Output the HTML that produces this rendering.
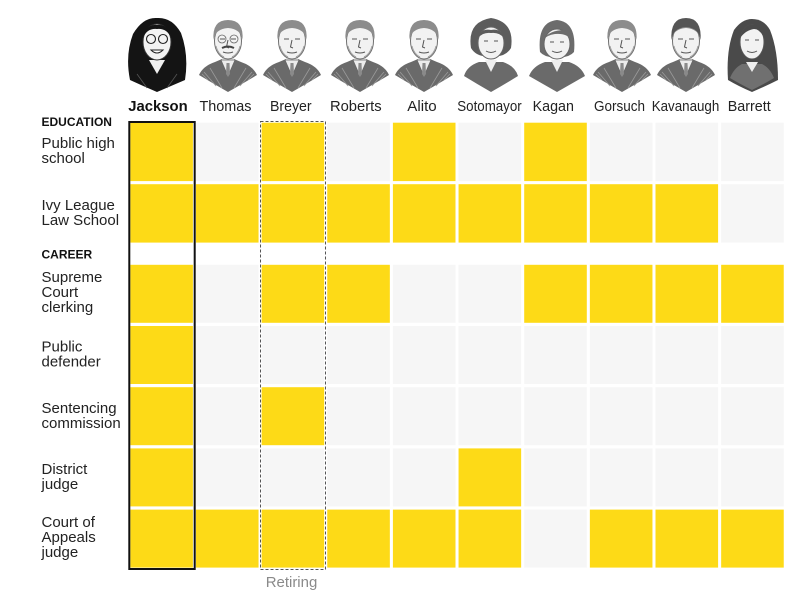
<!DOCTYPE html>
<html><head><meta charset="utf-8"><style>
html,body{margin:0;padding:0;background:#fff;}
svg{display:block;}
text{font-family:"Liberation Sans",sans-serif;}
</style></head><body>
<svg width="811" height="595" viewBox="0 0 811 595" xmlns="http://www.w3.org/2000/svg">
<defs>
<g id="man">
  <path d="M-29,75 Q-25,66 -13,62 L-6,59 L6,59 L13,62 Q25,66 29,75 Q14,84 0,92 Q-14,84 -29,75 Z" fill="#6a6a6a"/>
  <path d="M-24,72 L-12,86 M-18,68 L-6,88 M24,72 L12,86 M18,68 L6,88 M-26,74 L-20,80 M26,74 L20,80" stroke="#9a9a9a" stroke-width="0.8" fill="none"/>
  <rect x="-6" y="52" width="12" height="9" fill="#e6e6e6"/>
  <path d="M-7,60 L0,76 L7,60 Z" fill="#ececec" stroke="#666" stroke-width="0.7"/>
  <path d="M-1.5,63 L1.5,63 L2,74 L0,77 L-2,74 Z" fill="#8a8a8a"/>
  <ellipse cx="0" cy="41" rx="13.5" ry="18" fill="#f2f2f2" stroke="#6f6f6f" stroke-width="1"/>
  <path d="M-14.5,40 Q-16,20 0,20 Q16,20 14.5,40 Q13,29 0,28 Q-13,29 -14.5,40 Z" fill="#8c8c8c"/>
  <path d="M-8,39 L-3,39 M3,39 L8,39 M0,40 L-1.5,47 L1,48 M-5,52 Q0,54 5,52" stroke="#555" stroke-width="1" fill="none"/>
  <path d="M-12,46 Q-10,54 -4,57 M12,46 Q10,54 4,57" stroke="#999" stroke-width="0.8" fill="none"/>
</g>
</defs>

<!-- Portraits -->
<!-- Jackson -->
<g transform="translate(157,0)">
  <path d="M-27,80 Q-32,55 -24,34 Q-14,17 0,18 Q15,17 24,33 Q32,55 28,80 Q14,86 0,92 Q-14,86 -27,80 Z" fill="#141414"/>
  <path d="M-20,74 L-10,88 M20,74 L10,88" stroke="#555" stroke-width="0.8"/>
  <path d="M-8,60 L0,74 L8,60 Z" fill="#f0f0f0"/>
  <ellipse cx="0" cy="42" rx="14" ry="18" fill="#f3f3f3" stroke="#333" stroke-width="1"/>
  <path d="M-14,38 Q-12,24 0,25 Q12,24 14,38 Q10,28 0,29 Q-10,28 -14,38 Z" fill="#141414"/>
  <circle cx="-6" cy="39" r="4.5" fill="none" stroke="#222" stroke-width="1.1"/>
  <circle cx="6" cy="39" r="4.5" fill="none" stroke="#222" stroke-width="1.1"/>
  <path d="M-6,50 Q0,56 6,50 Z" fill="#fff" stroke="#222" stroke-width="1"/>
</g>
<!-- Thomas -->
<g transform="translate(228,0)"><use href="#man"/>
  <path d="M-6,48 Q0,45 6,48" stroke="#444" stroke-width="2" fill="none"/>
  <circle cx="-6" cy="39" r="4" fill="none" stroke="#666" stroke-width="0.8"/><circle cx="6" cy="39" r="4" fill="none" stroke="#666" stroke-width="0.8"/>
</g>
<g transform="translate(292,0)"><use href="#man"/></g>
<g transform="translate(360,0)"><use href="#man"/></g>
<g transform="translate(424,0)"><use href="#man"/></g>
<!-- Sotomayor -->
<g transform="translate(491,0)">
  <path d="M-27,76 Q-24,66 -12,62 L12,62 Q24,66 27,76 Q14,84 0,92 Q-14,84 -27,76 Z" fill="#6a6a6a"/>
  <path d="M-6,60 L0,72 L6,60 Z" fill="#eee"/>
  <path d="M-20,48 Q-24,22 0,18 Q24,22 20,48 Q14,58 0,56 Q-14,58 -20,48 Z" fill="#5c5c5c"/>
  <ellipse cx="0" cy="43" rx="13" ry="16" fill="#f2f2f2" stroke="#666" stroke-width="1"/>
  <path d="M-13,38 Q-10,28 0,30 Q10,28 13,38 Q8,32 0,33 Q-8,32 -13,38 Z" fill="#5c5c5c"/>
  <path d="M-7,41 L-3,41 M3,41 L7,41 M-5,51 Q0,54 5,51" stroke="#555" stroke-width="1" fill="none"/>
</g>
<!-- Kagan -->
<g transform="translate(557,0)">
  <path d="M-28,76 Q-24,66 -12,62 L12,62 Q24,66 28,76 Q14,84 0,92 Q-14,84 -28,76 Z" fill="#6a6a6a"/>
  <path d="M-6,60 L0,72 L6,60 Z" fill="#eee"/>
  <path d="M-17,52 Q-20,22 0,20 Q20,22 17,52 Q12,58 0,57 Q-12,58 -17,52 Z" fill="#6c6c6c"/>
  <ellipse cx="0" cy="44" rx="13" ry="15" fill="#f2f2f2" stroke="#666" stroke-width="1"/>
  <path d="M-14,40 Q-8,30 8,30 Q12,32 14,40 Q10,33 -2,34 Q-10,35 -14,40 Z" fill="#6c6c6c"/>
  <path d="M-7,42 L-3,42 M3,42 L7,42 M-5,51 Q0,54 5,51" stroke="#555" stroke-width="1" fill="none"/>
</g>
<g transform="translate(622,0)"><use href="#man"/></g>
<g transform="translate(686,0)"><use href="#man"/>
  <path d="M-14.5,40 Q-16,18 0,18 Q16,18 14.5,40 Q13,28 0,27 Q-13,28 -14.5,40 Z" fill="#555"/>
</g>
<!-- Barrett -->
<g transform="translate(752,0)">
  <path d="M-24,80 Q-26,50 -18,30 Q-10,19 0,19 Q12,19 18,30 Q26,50 26,80 Q14,86 0,92 Q-14,86 -24,80 Z" fill="#4a4a4a"/>
  <path d="M-22,78 Q-18,68 -10,64 L10,64 Q18,68 22,78 Q12,84 0,90 Q-12,84 -22,78 Z" fill="#707070"/>
  <path d="M-6,62 L0,72 L6,62 Z" fill="#eee"/>
  <ellipse cx="0" cy="42" rx="12" ry="17" fill="#f2f2f2" stroke="#555" stroke-width="1"/>
  <path d="M-12,38 Q-8,24 0,25 Q10,24 12,38 Q8,29 2,29 Q-6,30 -12,38 Z" fill="#4a4a4a"/>
  <path d="M-7,40 L-3,40 M3,40 L7,40 M-5,51 Q0,54 5,51" stroke="#555" stroke-width="1" fill="none"/>
</g>

<!-- Names -->
<g font-size="15" fill="#222">
  <text x="158" y="111" text-anchor="middle" font-weight="bold" fill="#111" textLength="59.4" lengthAdjust="spacingAndGlyphs">Jackson</text>
  <text x="225.5" y="111" text-anchor="middle" textLength="52" lengthAdjust="spacingAndGlyphs">Thomas</text>
  <text x="290.8" y="111" text-anchor="middle" textLength="41.7" lengthAdjust="spacingAndGlyphs">Breyer</text>
  <text x="355.8" y="111" text-anchor="middle" textLength="51.7" lengthAdjust="spacingAndGlyphs">Roberts</text>
  <text x="422" y="111" text-anchor="middle" textLength="29.4" lengthAdjust="spacingAndGlyphs">Alito</text>
  <text x="489.5" y="111" text-anchor="middle" textLength="64.4" lengthAdjust="spacingAndGlyphs">Sotomayor</text>
  <text x="553.3" y="111" text-anchor="middle" textLength="41.3" lengthAdjust="spacingAndGlyphs">Kagan</text>
  <text x="619.5" y="111" text-anchor="middle" textLength="51" lengthAdjust="spacingAndGlyphs">Gorsuch</text>
  <text x="685.5" y="111" text-anchor="middle" textLength="67.6" lengthAdjust="spacingAndGlyphs">Kavanaugh</text>
  <text x="749.2" y="111" text-anchor="middle" textLength="43" lengthAdjust="spacingAndGlyphs">Barrett</text>
</g>

<!-- Left labels -->
<g font-size="12" font-weight="bold" fill="#111">
  <text x="41.5" y="126">EDUCATION</text>
  <text x="41.5" y="258.5">CAREER</text>
</g>
<g font-size="15" fill="#222">
  <text x="41.5" y="148">Public high</text>
  <text x="41.5" y="163">school</text>
  <text x="41.5" y="210">Ivy League</text>
  <text x="41.5" y="225">Law School</text>
  <text x="41.5" y="282">Supreme</text>
  <text x="41.5" y="297">Court</text>
  <text x="41.5" y="312">clerking</text>
  <text x="41.5" y="351.5">Public</text>
  <text x="41.5" y="366.5">defender</text>
  <text x="41.5" y="413">Sentencing</text>
  <text x="41.5" y="428">commission</text>
  <text x="41.5" y="474">District</text>
  <text x="41.5" y="489">judge</text>
  <text x="41.5" y="527">Court of</text>
  <text x="41.5" y="542">Appeals</text>
  <text x="41.5" y="557">judge</text>
</g>

<!-- Cells -->
<g>
<!-- Row: Public high school y=122.7 h=58.4 : 1 0 1 0 1 0 1 0 0 0 -->
<rect x="130.3" y="122.7" width="62.6" height="58.4" fill="#fdda17"/>
<rect x="195.95" y="122.7" width="62.6" height="58.4" fill="#f6f6f6"/>
<rect x="261.6" y="122.7" width="62.6" height="58.4" fill="#fdda17"/>
<rect x="327.25" y="122.7" width="62.6" height="58.4" fill="#f6f6f6"/>
<rect x="392.9" y="122.7" width="62.6" height="58.4" fill="#fdda17"/>
<rect x="458.55" y="122.7" width="62.6" height="58.4" fill="#f6f6f6"/>
<rect x="524.2" y="122.7" width="62.6" height="58.4" fill="#fdda17"/>
<rect x="589.85" y="122.7" width="62.6" height="58.4" fill="#f6f6f6"/>
<rect x="655.5" y="122.7" width="62.6" height="58.4" fill="#f6f6f6"/>
<rect x="721.15" y="122.7" width="62.6" height="58.4" fill="#f6f6f6"/>
<!-- Ivy League y=184.2 : all 1 except Barrett -->
<rect x="130.3" y="184.2" width="62.6" height="58.4" fill="#fdda17"/>
<rect x="195.95" y="184.2" width="62.6" height="58.4" fill="#fdda17"/>
<rect x="261.6" y="184.2" width="62.6" height="58.4" fill="#fdda17"/>
<rect x="327.25" y="184.2" width="62.6" height="58.4" fill="#fdda17"/>
<rect x="392.9" y="184.2" width="62.6" height="58.4" fill="#fdda17"/>
<rect x="458.55" y="184.2" width="62.6" height="58.4" fill="#fdda17"/>
<rect x="524.2" y="184.2" width="62.6" height="58.4" fill="#fdda17"/>
<rect x="589.85" y="184.2" width="62.6" height="58.4" fill="#fdda17"/>
<rect x="655.5" y="184.2" width="62.6" height="58.4" fill="#fdda17"/>
<rect x="721.15" y="184.2" width="62.6" height="58.4" fill="#f6f6f6"/>
<!-- Clerking y=264.8 h=58 : 1 0 1 1 0 0 1 1 1 1 -->
<rect x="130.3" y="264.8" width="62.6" height="58" fill="#fdda17"/>
<rect x="195.95" y="264.8" width="62.6" height="58" fill="#f6f6f6"/>
<rect x="261.6" y="264.8" width="62.6" height="58" fill="#fdda17"/>
<rect x="327.25" y="264.8" width="62.6" height="58" fill="#fdda17"/>
<rect x="392.9" y="264.8" width="62.6" height="58" fill="#f6f6f6"/>
<rect x="458.55" y="264.8" width="62.6" height="58" fill="#f6f6f6"/>
<rect x="524.2" y="264.8" width="62.6" height="58" fill="#fdda17"/>
<rect x="589.85" y="264.8" width="62.6" height="58" fill="#fdda17"/>
<rect x="655.5" y="264.8" width="62.6" height="58" fill="#fdda17"/>
<rect x="721.15" y="264.8" width="62.6" height="58" fill="#fdda17"/>
<!-- Public defender y=326 : Jackson only -->
<rect x="130.3" y="326" width="62.6" height="58" fill="#fdda17"/>
<rect x="195.95" y="326" width="62.6" height="58" fill="#f6f6f6"/>
<rect x="261.6" y="326" width="62.6" height="58" fill="#f6f6f6"/>
<rect x="327.25" y="326" width="62.6" height="58" fill="#f6f6f6"/>
<rect x="392.9" y="326" width="62.6" height="58" fill="#f6f6f6"/>
<rect x="458.55" y="326" width="62.6" height="58" fill="#f6f6f6"/>
<rect x="524.2" y="326" width="62.6" height="58" fill="#f6f6f6"/>
<rect x="589.85" y="326" width="62.6" height="58" fill="#f6f6f6"/>
<rect x="655.5" y="326" width="62.6" height="58" fill="#f6f6f6"/>
<rect x="721.15" y="326" width="62.6" height="58" fill="#f6f6f6"/>
<!-- Sentencing y=387.2 : Jackson, Breyer -->
<rect x="130.3" y="387.2" width="62.6" height="58" fill="#fdda17"/>
<rect x="195.95" y="387.2" width="62.6" height="58" fill="#f6f6f6"/>
<rect x="261.6" y="387.2" width="62.6" height="58" fill="#fdda17"/>
<rect x="327.25" y="387.2" width="62.6" height="58" fill="#f6f6f6"/>
<rect x="392.9" y="387.2" width="62.6" height="58" fill="#f6f6f6"/>
<rect x="458.55" y="387.2" width="62.6" height="58" fill="#f6f6f6"/>
<rect x="524.2" y="387.2" width="62.6" height="58" fill="#f6f6f6"/>
<rect x="589.85" y="387.2" width="62.6" height="58" fill="#f6f6f6"/>
<rect x="655.5" y="387.2" width="62.6" height="58" fill="#f6f6f6"/>
<rect x="721.15" y="387.2" width="62.6" height="58" fill="#f6f6f6"/>
<!-- District judge y=448.4 : Jackson, Sotomayor -->
<rect x="130.3" y="448.4" width="62.6" height="58" fill="#fdda17"/>
<rect x="195.95" y="448.4" width="62.6" height="58" fill="#f6f6f6"/>
<rect x="261.6" y="448.4" width="62.6" height="58" fill="#f6f6f6"/>
<rect x="327.25" y="448.4" width="62.6" height="58" fill="#f6f6f6"/>
<rect x="392.9" y="448.4" width="62.6" height="58" fill="#f6f6f6"/>
<rect x="458.55" y="448.4" width="62.6" height="58" fill="#fdda17"/>
<rect x="524.2" y="448.4" width="62.6" height="58" fill="#f6f6f6"/>
<rect x="589.85" y="448.4" width="62.6" height="58" fill="#f6f6f6"/>
<rect x="655.5" y="448.4" width="62.6" height="58" fill="#f6f6f6"/>
<rect x="721.15" y="448.4" width="62.6" height="58" fill="#f6f6f6"/>
<!-- Court of Appeals y=509.6 : all except Kagan -->
<rect x="130.3" y="509.6" width="62.6" height="58" fill="#fdda17"/>
<rect x="195.95" y="509.6" width="62.6" height="58" fill="#fdda17"/>
<rect x="261.6" y="509.6" width="62.6" height="58" fill="#fdda17"/>
<rect x="327.25" y="509.6" width="62.6" height="58" fill="#fdda17"/>
<rect x="392.9" y="509.6" width="62.6" height="58" fill="#fdda17"/>
<rect x="458.55" y="509.6" width="62.6" height="58" fill="#fdda17"/>
<rect x="524.2" y="509.6" width="62.6" height="58" fill="#f6f6f6"/>
<rect x="589.85" y="509.6" width="62.6" height="58" fill="#fdda17"/>
<rect x="655.5" y="509.6" width="62.6" height="58" fill="#fdda17"/>
<rect x="721.15" y="509.6" width="62.6" height="58" fill="#fdda17"/>
</g>

<!-- Breyer dashed box -->
<rect x="260.5" y="121.5" width="65" height="448" fill="none" stroke="#555" stroke-width="1" stroke-dasharray="3,2"/>
<!-- Jackson box -->
<rect x="129.3" y="122" width="65.4" height="447" fill="none" stroke="#111" stroke-width="2"/>

<text x="291.5" y="587" text-anchor="middle" font-size="15" fill="#8a8a8a" textLength="51.6" lengthAdjust="spacingAndGlyphs">Retiring</text>
</svg>
</body></html>
